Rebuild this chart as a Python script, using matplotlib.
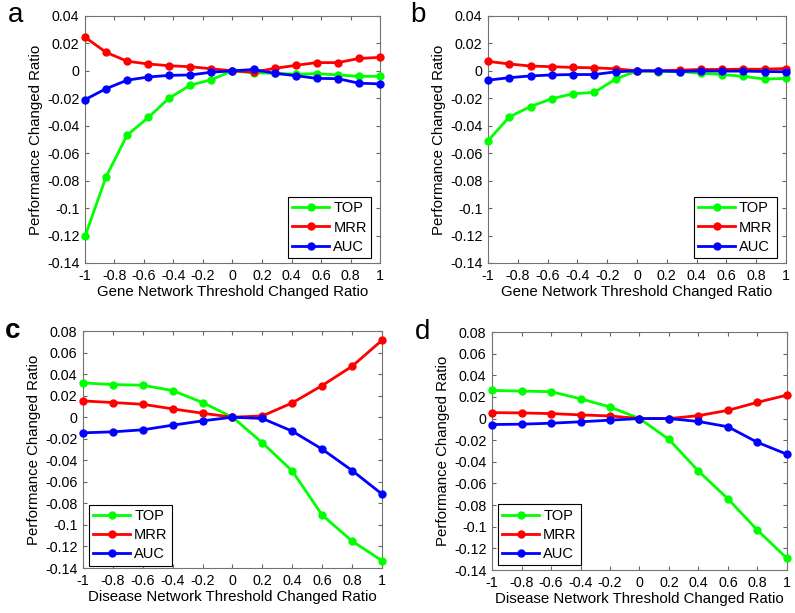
import matplotlib
matplotlib.use("Agg")
import matplotlib.pyplot as plt
from matplotlib.ticker import FuncFormatter

plt.rcParams['font.family'] = ['Liberation Sans', 'DejaVu Sans']
plt.rcParams['axes.unicode_minus'] = False

# gene network threshold ratio (15 steps), disease network threshold ratio (11 steps)
gene_x = [-1.0, -0.857, -0.714, -0.571, -0.429, -0.286, -0.143, 0.0,
          0.143, 0.286, 0.429, 0.571, 0.714, 0.857, 1.0]
disease_x = [-1.0, -0.8, -0.6, -0.4, -0.2, 0.0, 0.2, 0.4, 0.6, 0.8, 1.0]

# panel a
a_top = [-0.1207, -0.0772, -0.0468, -0.034, -0.0198, -0.0105, -0.0064, 0.0,
         -0.0015, -0.0017, -0.0025, -0.002, -0.003, -0.004, -0.004]
a_mrr = [0.0245, 0.0135, 0.007, 0.005, 0.0037, 0.003, 0.0015, 0.0,
         -0.001, 0.0018, 0.004, 0.006, 0.006, 0.009, 0.0098]
a_auc = [-0.021, -0.013, -0.0068, -0.0045, -0.0033, -0.003, -0.001, 0.0,
         0.001, -0.0018, -0.0035, -0.0055, -0.0057, -0.009, -0.0095]

# panel b
b_top = [-0.051, -0.0336, -0.026, -0.0203, -0.0167, -0.0157, -0.006, 0.0,
         -0.0005, -0.0005, -0.0017, -0.0027, -0.004, -0.006, -0.0055]
b_mrr = [0.0069, 0.005, 0.0035, 0.003, 0.0025, 0.0022, 0.0015, 0.0,
         0.0, 0.0005, 0.001, 0.001, 0.0012, 0.0012, 0.0017]
b_auc = [-0.0068, -0.005, -0.0037, -0.003, -0.0027, -0.0027, -0.0007, 0.0,
         0.0, -0.0005, 0.0, -0.0002, -0.0002, -0.0005, -0.0007]

# panel c
c_top = [0.0318, 0.0303, 0.0297, 0.0247, 0.0136, 0.0, -0.0238, -0.05, -0.0909, -0.115, -0.1332]
c_mrr = [0.0151, 0.0136, 0.012, 0.0077, 0.0037, 0.0, 0.0012, 0.0133, 0.0294, 0.0473, 0.0714]
c_auc = [-0.0145, -0.0136, -0.0117, -0.0074, -0.0034, 0.0, -0.0012, -0.013, -0.0297, -0.0495, -0.0714]

# panel d
d_top = [0.026, 0.0254, 0.0248, 0.0183, 0.0107, 0.0, -0.0193, -0.0486, -0.0742, -0.1032, -0.1292]
d_mrr = [0.0055, 0.0052, 0.0046, 0.0034, 0.0024, 0.0, 0.0, 0.0027, 0.0076, 0.015, 0.0217]
d_auc = [-0.0055, -0.0052, -0.0043, -0.003, -0.0015, 0.0, 0.0, -0.0027, -0.0076, -0.022, -0.033]

series_names = ["TOP", "MRR", "AUC"]
series_colors = ["#00ff00", "#ff0000", "#0000ff"]

x_ticks = [-1, -0.8, -0.6, -0.4, -0.2, 0, 0.2, 0.4, 0.6, 0.8, 1]


def fmt(v, pos):
    return f"{v:g}" if abs(v) > 1e-9 else "0"


def draw_panel(ax, x, ys, letter, xlabel, ylim, yticks, legend_loc, legend_anchor):
    for y, name, c in zip(ys, series_names, series_colors):
        ax.plot(x, y, color=c, lw=2, marker='o', markersize=5, label=name, clip_on=False, zorder=3)
    ax.set_xlim(-1, 1)
    ax.set_ylim(*ylim)
    ax.set_xticks(x_ticks)
    ax.set_yticks(yticks)
    ax.xaxis.set_major_formatter(FuncFormatter(fmt))
    ax.yaxis.set_major_formatter(FuncFormatter(fmt))
    ax.tick_params(direction='in', top=True, right=True, length=3, width=0.8,
                   color='0.4', labelsize=10.3, pad=4)
    for s in ax.spines.values():
        s.set_color('0.45')
        s.set_linewidth(0.8)
    ax.set_xlabel(xlabel, fontsize=10.8, labelpad=2)
    ax.set_ylabel("Performance Changed Ratio", fontsize=10.8, labelpad=3)
    leg = ax.legend(loc=legend_loc, bbox_to_anchor=legend_anchor, fontsize=10.5, fancybox=False,
                    framealpha=1, edgecolor='black', handlelength=2.5, borderpad=0.3,
                    labelspacing=0.35, handletextpad=0.3, borderaxespad=0)
    leg.get_frame().set_linewidth(0.8)
    ax.text(-0.26, 1.055, letter, transform=ax.transAxes, fontsize=20,
            fontweight='bold' if letter == 'c' else 'normal', va='top', ha='left')


fig = plt.figure(figsize=(7.95, 6.13), dpi=100)
ax_a = fig.add_axes([0.1069, 0.571, 0.3711, 0.403])
ax_b = fig.add_axes([0.6138, 0.571, 0.3748, 0.403])
ax_c = fig.add_axes([0.1044, 0.0734, 0.3761, 0.3866])
ax_d = fig.add_axes([0.6189, 0.0701, 0.371, 0.3883])

gene_yticks = [0.04, 0.02, 0, -0.02, -0.04, -0.06, -0.08, -0.1, -0.12, -0.14]
dis_yticks = [0.08, 0.06, 0.04, 0.02, 0, -0.02, -0.04, -0.06, -0.08, -0.1, -0.12, -0.14]

draw_panel(ax_a, gene_x, [a_top, a_mrr, a_auc], 'a', "Gene Network Threshold Changed Ratio",
           (-0.14, 0.04), gene_yticks, 'lower right', (0.97, 0.02))
draw_panel(ax_b, gene_x, [b_top, b_mrr, b_auc], 'b', "Gene Network Threshold Changed Ratio",
           (-0.14, 0.04), gene_yticks, 'lower right', (0.97, 0.02))
draw_panel(ax_c, disease_x, [c_top, c_mrr, c_auc], 'c', "Disease Network Threshold Changed Ratio",
           (-0.14, 0.08), dis_yticks, 'lower left', (0.02, 0.01))
draw_panel(ax_d, disease_x, [d_top, d_mrr, d_auc], 'd', "Disease Network Threshold Changed Ratio",
           (-0.14, 0.08), dis_yticks, 'lower left', (0.02, 0.02))

fig.savefig("out.png", dpi=100)
